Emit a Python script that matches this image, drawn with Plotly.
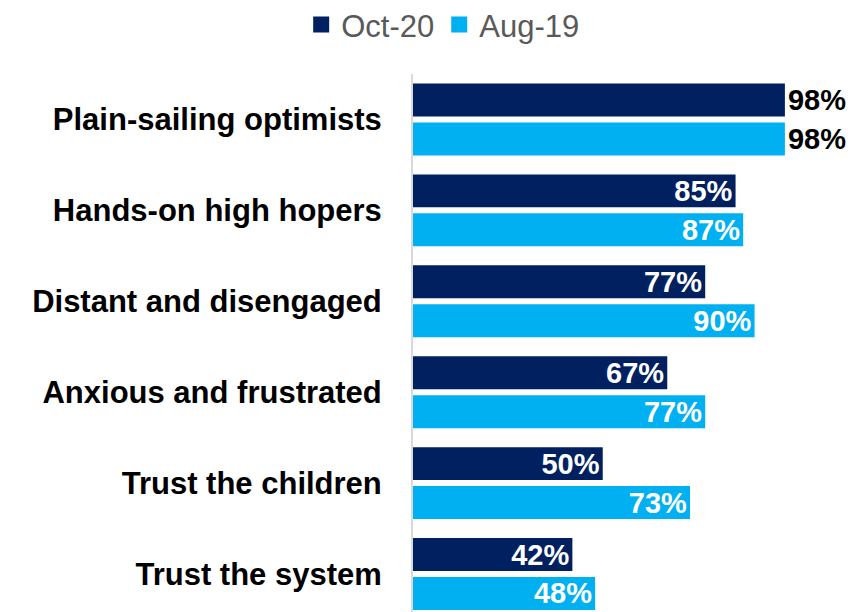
import plotly.graph_objects as go

segments = ["Plain-sailing optimists", "Hands-on high hopers", "Distant and disengaged",
            "Anxious and frustrated", "Trust the children", "Trust the system"]
oct_20 = [98, 85, 77, 67, 50, 42]
aug_19 = [98, 87, 90, 77, 73, 48]
series = [("Oct-20", oct_20, "#002060"), ("Aug-19", aug_19, "#00B0F0")]

label_font = "Liberation Sans"


def text_pos(values):
    return ["outside" if v >= 95 else "inside" for v in values]


fig = go.Figure()
for name, vals, colour in series:
    fig.add_trace(go.Bar(
        y=segments, x=vals, name=name, orientation="h", showlegend=False,
        marker=dict(color=colour, line=dict(width=0)),
        text=[f"{v}%" for v in vals],
        textposition=text_pos(vals),
        insidetextanchor="end",
        insidetextfont=dict(color="white", size=29, family=label_font, weight="bold"),
        outsidetextfont=dict(color="black", size=29, family=label_font, weight="bold"),
        constraintext="none",
        cliponaxis=False,
    ))

# legend entries with larger square swatches
for name, vals, colour in series:
    fig.add_trace(go.Scatter(
        x=[None], y=[None], mode="markers", name=name,
        marker=dict(symbol="square", size=17, color=colour),
    ))

# page body has an 8px margin, so the figure is sized to fit the window
fig.update_layout(
    width=849, height=604,
    margin=dict(l=405, r=0, t=66, b=0),
    plot_bgcolor="white", paper_bgcolor="white",
    barmode="group", bargap=0.143, bargroupgap=0.154,
    legend=dict(orientation="h", xref="container", yref="container",
                x=0.512, y=0.972, xanchor="center", yanchor="middle",
                font=dict(size=31, color="#595959", family=label_font),
                itemwidth=30, tracegroupgap=0),
    uniformtext=dict(minsize=29, mode="show"),
)
fig.update_xaxes(range=[0, 117], visible=False, automargin=False)
fig.update_yaxes(range=[5.418, -0.5], showline=True, linecolor="#D9D9D9", linewidth=2,
                 ticks="", ticklabelstandoff=23, automargin=False,
                 tickfont=dict(size=31, color="black", family=label_font, weight="bold"),
                 showgrid=False)

fig.write_html("out.html")
